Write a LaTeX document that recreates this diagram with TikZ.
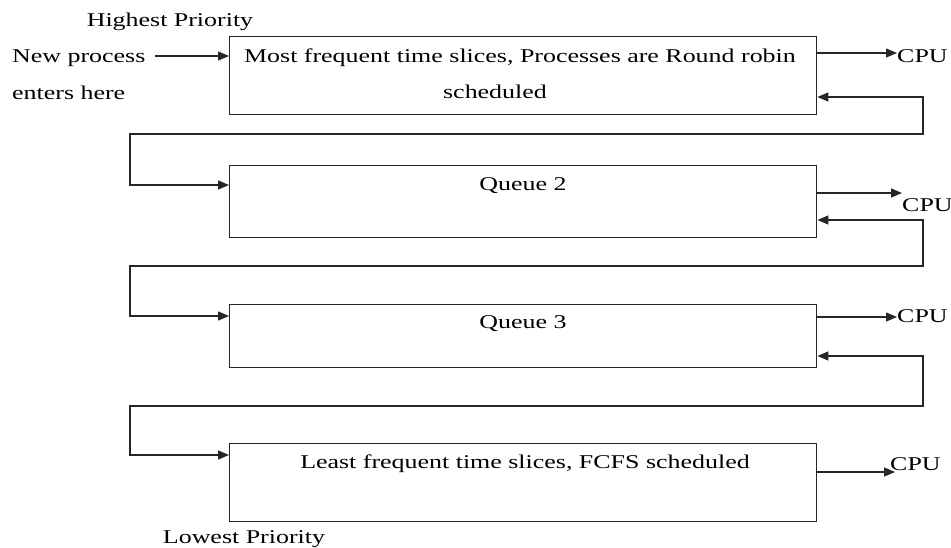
\documentclass[tikz,border=0pt]{standalone}
\usepackage{fontspec}
\setmainfont[FakeStretch=1.33]{Liberation Serif}
\usetikzlibrary{arrows.meta}
\begin{document}
\begin{tikzpicture}[x=1pt,y=-1pt,
  qbox/.style={draw=black!85, line width=1.4pt, inner sep=0pt, anchor=north west, minimum width=587pt},
  lbl/.style={inner sep=0pt, anchor=base, font=\fontsize{19.5}{23}\selectfont},
  lblw/.style={lbl, anchor=base west},
  tipa/.tip={Triangle[length=11pt,width=9pt]},
  conn/.style={draw=black!85, line width=1.4pt, -tipa},
  conn2/.style={draw=black!85, line width=1.4pt, tipa-tipa}]
\useasboundingbox (0,0) rectangle (951,548);
% queues
\node[qbox, minimum height=78pt] (b1) at (229,36) {};
\node[qbox, minimum height=72pt] (b2) at (229,165) {};
\node[qbox, minimum height=63pt] (b3) at (229,304) {};
\node[qbox, minimum height=78pt] (b4) at (229,443) {};
% texts
\node[lbl] (hp) at (170,27) {Highest Priority};
\node[lblw] (np1) at (12,63) {New process};
\node[lblw] (np2) at (12,100) {enters here};
\node[lbl] (t1a) at (520,63) {Most frequent time slices, Processes are Round robin};
\node[lbl] (t1b) at (495,99) {scheduled};
\node[lbl] (t2) at (523,191) {Queue 2};
\node[lbl] (t3) at (523,328) {Queue 3};
\node[lbl] (t4) at (525,468) {Least frequent time slices, FCFS scheduled};
\node[lbl] (lp) at (244,543) {Lowest Priority};
\node[lblw] (cpu1) at (897,63) {CPU};
\node[lblw] (cpu2) at (902,212) {CPU};
\node[lblw] (cpu3) at (897,323) {CPU};
\node[lblw] (cpu4) at (890,470) {CPU};
% entry
\coordinate (npa) at (155,56);
\draw[conn] (npa) -- (npa -| b1.west);
% to CPU
\draw[conn] (b1.east |- 0,53) -- (cpu1.west |- 0,53);
\draw[conn] (b2.east |- 0,193) -- (cpu2.west |- 0,193);
\draw[conn] (b3.east |- 0,317) -- (cpu3.west |- 0,317);
\coordinate (c4) at (895,472);
\draw[conn] (b4.east |- c4) -- (c4);
% feedback loops
\draw[conn2] (b1.east |- 0,97) -- (923,97) -- (923,134) -- (130,134) -- (130,185) -- (b2.west |- 0,185);
\draw[conn2] (b2.east |- 0,220) -- (923,220) -- (923,266) -- (130,266) -- (130,316) -- (b3.west |- 0,316);
\draw[conn2] (b3.east |- 0,356) -- (923,356) -- (923,406) -- (130,406) -- (130,455) -- (b4.west |- 0,455);
\end{tikzpicture}
\end{document}
